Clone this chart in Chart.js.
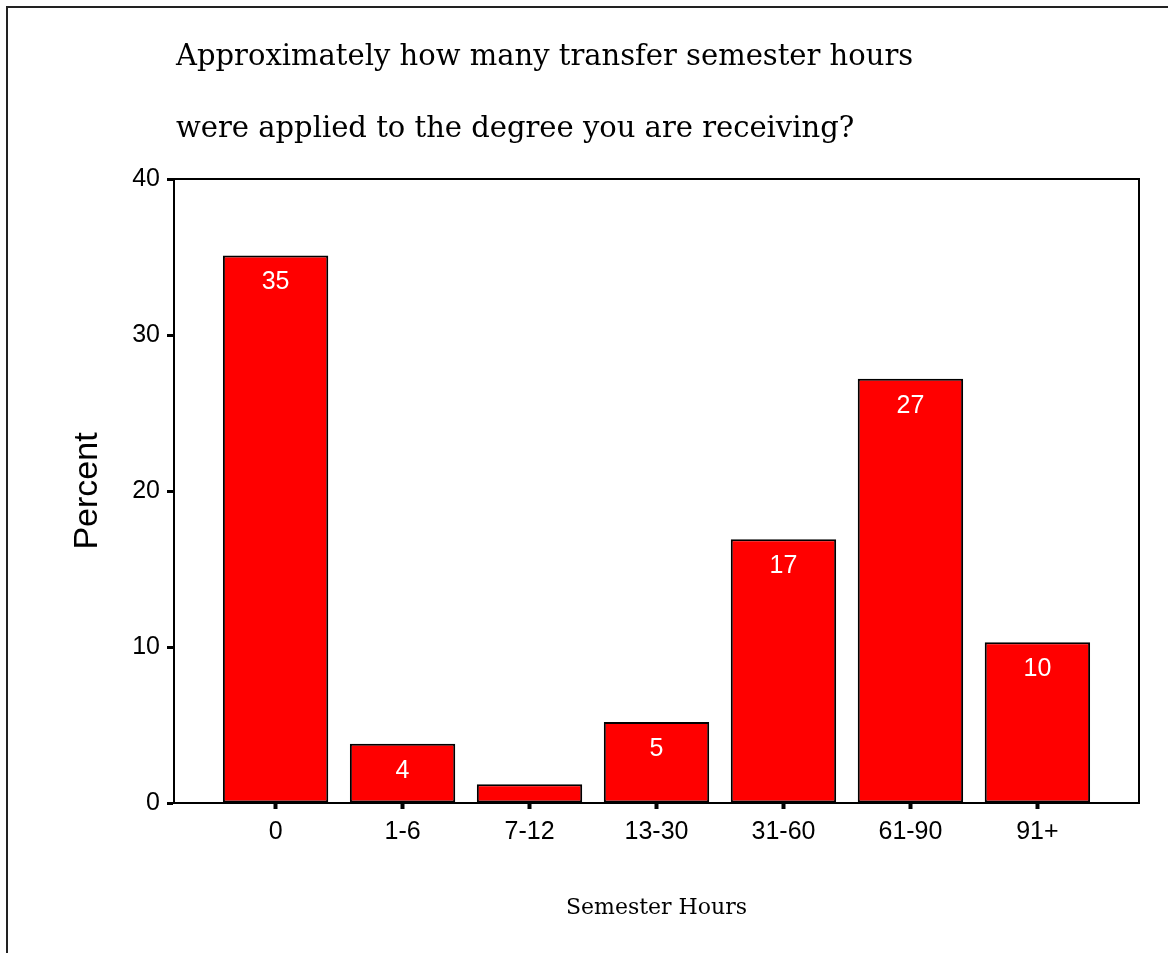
<!DOCTYPE html>
<html>
<head>
<meta charset="utf-8">
<script src="https://cdn.jsdelivr.net/npm/chart.js@4"></script>
<style>
  body { margin: 0; background: #fff; }
  canvas { display: block; }
</style>
</head>
<body>
<canvas id="myChart" width="1168" height="953"></canvas>
<script>
const titleLines = [
  "Approximately how many transfer semester hours",
  "were applied to the degree you are receiving?"
];
const categories = ["0", "1-6", "7-12", "13-30", "31-60", "61-90", "91+"];
const percents = [35.1, 3.8, 1.2, 5.2, 16.9, 27.2, 10.3];
const barLabels = ["35", "4", "", "5", "17", "27", "10"];
const yTicks = [0, 10, 20, 30, 40];

// page frame, plot box, title and the numbers inside the bars
const extras = {
  id: "extras",
  beforeDraw(chart) {
    const ctx = chart.ctx;
    ctx.save();
    ctx.fillStyle = "#fff";
    ctx.fillRect(0, 0, chart.width, chart.height);
    ctx.strokeStyle = "#222";
    ctx.lineWidth = 2;
    ctx.strokeRect(7, 7, chart.width + 20, chart.height + 20);
    ctx.restore();
  },
  afterDraw(chart) {
    const ctx = chart.ctx;
    const a = chart.chartArea;
    ctx.save();
    ctx.strokeStyle = "#000";
    ctx.lineWidth = 2;
    ctx.strokeRect(a.left, a.top, a.right - a.left, a.bottom - a.top);

    ctx.fillStyle = "#000";
    ctx.font = '29px "DejaVu Serif"';
    ctx.textAlign = "left";
    ctx.textBaseline = "alphabetic";
    ctx.fillText(titleLines[0], a.left + 2, 65);
    ctx.fillText(titleLines[1], a.left + 2, 137);

    const meta = chart.getDatasetMeta(0);
    ctx.fillStyle = "#fff";
    ctx.font = '25px "Liberation Sans"';
    ctx.textAlign = "center";
    ctx.textBaseline = "middle";
    meta.data.forEach((bar, i) => {
      if (barLabels[i]) ctx.fillText(barLabels[i], bar.x, bar.y + 27);
    });
    ctx.restore();
  }
};

const ctx = document.getElementById("myChart").getContext("2d");
const myChart = new Chart(ctx, {
  type: "bar",
  data: {
    datasets: [{
      data: categories.map((c, i) => ({ x: i, y: percents[i] })),
      backgroundColor: "#ff0000",
      borderColor: "#000",
      borderWidth: 2,
      borderSkipped: false,
      categoryPercentage: 1,
      barPercentage: 0.83
    }]
  },
  options: {
    responsive: false,
    animation: false,
    layout: { padding: { top: 179, right: 29, left: 0, bottom: 0 } },
    plugins: { legend: { display: false }, tooltip: { enabled: false } },
    scales: {
      x: {
        type: "linear",
        offset: false,
        min: -0.8,
        max: 6.8,
        afterBuildTicks: (scale) => {
          scale.ticks = categories.map((c, i) => ({ value: i }));
        },
        afterFit: (scale) => { scale.height = 150; },
        ticks: {
          autoSkip: false,
          maxRotation: 0,
          padding: 8,
          color: "#000",
          font: { family: "Liberation Sans", size: 25 },
          callback: (v) => categories[v]
        },
        grid: { offset: false, drawOnChartArea: false, tickLength: 6, tickWidth: 4, tickColor: "#000" },
        border: { display: true, color: "#000", width: 2 },
        title: {
          display: true,
          text: "Semester Hours",
          color: "#000",
          font: { family: "DejaVu Serif", size: 22 },
          padding: { top: 0, bottom: 32 }
        }
      },
      y: {
        min: 0,
        max: 40,
        afterBuildTicks: (scale) => {
          scale.ticks = yTicks.map((v) => ({ value: v }));
        },
        afterFit: (scale) => { scale.width = 174; },
        ticks: {
          padding: 7,
          color: "#000",
          font: { family: "Liberation Sans", size: 25 }
        },
        grid: { drawOnChartArea: false, tickLength: 7, tickWidth: 3, tickColor: "#000" },
        border: { display: true, color: "#000", width: 2 },
        title: {
          display: true,
          text: "Percent",
          color: "#000",
          font: { family: "Liberation Sans", size: 34 },
          padding: { top: 67, bottom: 0 }
        }
      }
    }
  },
  plugins: [extras]
});
</script>
</body>
</html>
